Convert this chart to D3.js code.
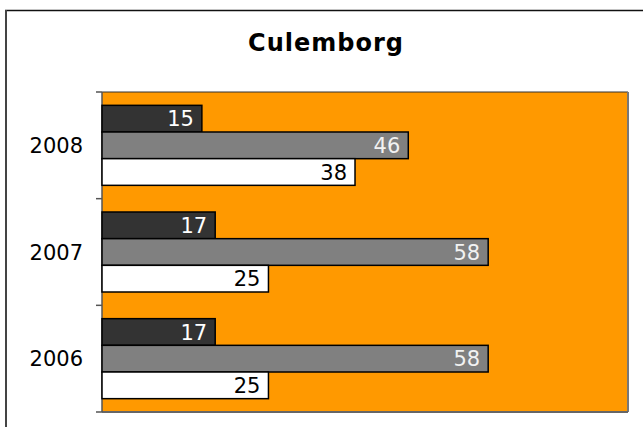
<!DOCTYPE html>
<html>
<head>
<meta charset="utf-8">
<script src="https://cdn.jsdelivr.net/npm/d3@7"></script>
<style>
  html, body { margin: 0; padding: 0; background: #fff; }
  svg { display: block; font-family: "DejaVu Sans", Verdana, sans-serif; }
</style>
</head>
<body>
<div id="chart"></div>
<script>
const width = 643;
const height = 427;

const title = "Culemborg";
const years = ["2008", "2007", "2006"];
const seriesNames = ["a", "b", "c"];
const seriesA = [15, 17, 17];
const seriesB = [46, 58, 58];
const seriesC = [38, 25, 25];
const xMax = 79;

const colors = { a: "#333333", b: "#808080", c: "#ffffff" };
const labelColors = { a: "#ffffff", b: "#f2f2f2", c: "#000000" };

const rows = years.map((year, i) => ({
    year,
    values: [
        { key: "a", value: seriesA[i] },
        { key: "b", value: seriesB[i] },
        { key: "c", value: seriesC[i] }
    ]
}));

const plotLeft = 102;
const plotRight = 628;
const plotTop = 92;
const plotBottom = 412;

const x = d3.scaleLinear()
    .domain([0, xMax])
    .range([plotLeft, plotRight]);

const y = d3.scaleBand()
    .domain(years)
    .range([plotTop, plotBottom])
    .padding(0);

const ySub = d3.scaleBand()
    .domain(seriesNames)
    .range([0, y.bandwidth()])
    .paddingInner(0)
    .paddingOuter(0.5);

const svg = d3.select("#chart")
    .append("svg")
        .attr("width", width)
        .attr("height", height);

// outer frame (runs off the right and bottom edges)
svg.append("line")
    .attr("x1", 5).attr("x2", width + 10)
    .attr("y1", 10.5).attr("y2", 10.5)
    .attr("stroke", "#111")
    .attr("stroke-width", 1.5);
svg.append("line")
    .attr("x1", 6).attr("x2", 6)
    .attr("y1", 10).attr("y2", height + 10)
    .attr("stroke", "#444")
    .attr("stroke-width", 2);

// title
svg.append("text")
    .attr("x", 326)
    .attr("y", 51)
    .attr("text-anchor", "middle")
    .attr("font-size", 24)
    .attr("font-weight", "bold")
    .attr("letter-spacing", 1)
    .attr("fill", "#000")
    .text(title);

// plot area
svg.append("rect")
    .attr("x", plotLeft)
    .attr("y", plotTop)
    .attr("width", plotRight - plotLeft)
    .attr("height", plotBottom - plotTop)
    .attr("fill", "#ff9900");

svg.append("line")
    .attr("x1", plotLeft).attr("x2", plotRight)
    .attr("y1", plotTop).attr("y2", plotTop)
    .attr("stroke", "#333").attr("stroke-width", 1);
svg.append("line")
    .attr("x1", plotRight).attr("x2", plotRight)
    .attr("y1", plotTop).attr("y2", plotBottom)
    .attr("stroke", "#777").attr("stroke-width", 2);
svg.append("line")
    .attr("x1", plotLeft).attr("x2", plotRight)
    .attr("y1", plotBottom).attr("y2", plotBottom)
    .attr("stroke", "#666").attr("stroke-width", 2);

// y axis
const yAxis = svg.append("g")
    .attr("transform", `translate(${plotLeft},0)`);
yAxis.append("line")
    .attr("x1", 0).attr("x2", 0)
    .attr("y1", plotTop).attr("y2", plotBottom)
    .attr("stroke", "#555").attr("stroke-width", 1.5);
const tickYs = years.map(d => y(d)).concat([y(years[years.length - 1]) + y.bandwidth()]);
yAxis.selectAll(".tick")
    .data(tickYs)
    .join("line")
        .attr("x1", -6).attr("x2", 0)
        .attr("y1", d => d).attr("y2", d => d)
        .attr("stroke", "#555").attr("stroke-width", 1.5);
yAxis.selectAll(".ylabel")
    .data(years)
    .join("text")
        .attr("x", -19)
        .attr("y", d => y(d) + y.bandwidth() / 2)
        .attr("dy", "0.36em")
        .attr("text-anchor", "end")
        .attr("font-size", 21)
        .attr("fill", "#000")
        .text(d => d);

// bars
const groups = svg.append("g")
    .selectAll("g")
    .data(rows)
    .join("g")
        .attr("transform", d => `translate(0,${y(d.year)})`);

groups.selectAll("rect")
    .data(d => d.values)
    .join("rect")
        .attr("x", x(0))
        .attr("y", d => ySub(d.key))
        .attr("width", d => x(d.value) - x(0))
        .attr("height", ySub.bandwidth())
        .attr("fill", d => colors[d.key])
        .attr("stroke", "#000")
        .attr("stroke-width", 1.5);

groups.selectAll("text")
    .data(d => d.values)
    .join("text")
        .attr("x", d => x(d.value) - 8)
        .attr("y", d => ySub(d.key) + ySub.bandwidth() / 2)
        .attr("dy", "0.36em")
        .attr("text-anchor", "end")
        .attr("font-size", 21)
        .attr("fill", d => labelColors[d.key])
        .text(d => d.value);
</script>
</body>
</html>
